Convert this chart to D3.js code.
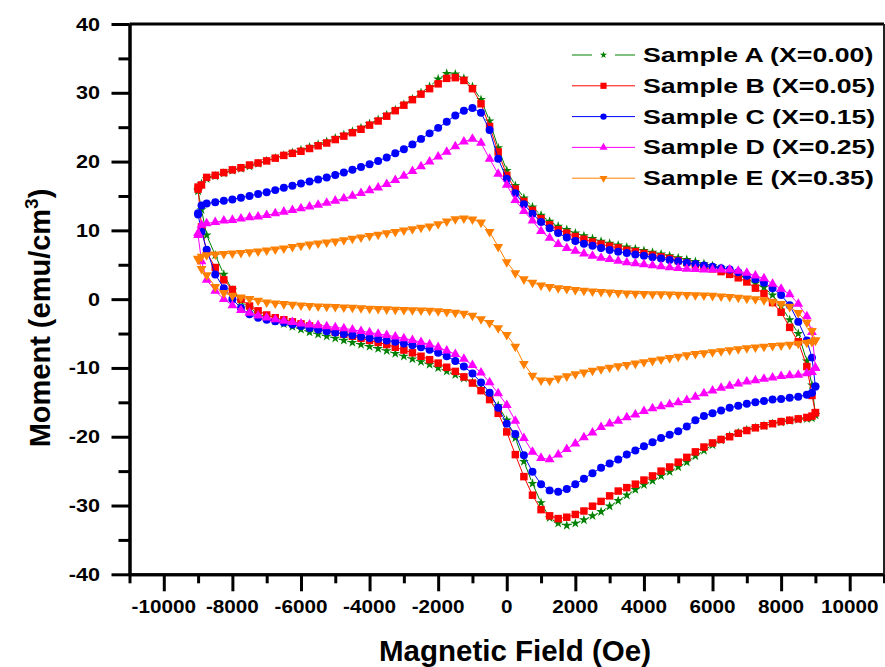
<!DOCTYPE html>
<html>
<head>
<meta charset="utf-8">
<script src="https://cdn.jsdelivr.net/npm/d3@7"></script>
<style>
  body { margin: 0; background: #fff; }
  svg text { font-family: "Liberation Sans", Arial, sans-serif; font-weight: bold; fill: #000; }
</style>
</head>
<body>
<svg id="chart" width="885" height="667"></svg>
<script>
// field steps (Oe), shared by both branches of every loop
const field = [
  -9000, -8900, -8750, -8500, -8250, -8000, -7750, -7500, -7250, -7000,
  -6750, -6500, -6250, -6000, -5750, -5500, -5250, -5000, -4750, -4500,
  -4250, -4000, -3750, -3500, -3250, -3000, -2750, -2500, -2250, -2000,
  -1750, -1500, -1250, -1000, -750, -500, -250, 0, 250, 500,
  750, 1000, 1250, 1500, 1750, 2000, 2250, 2500, 2750, 3000,
  3250, 3500, 3750, 4000, 4250, 4500, 4750, 5000, 5250, 5500,
  5750, 6000, 6250, 6500, 6750, 7000, 7250, 7500, 7750, 8000,
  8250, 8500, 8750, 8900, 9000
];

// upper branch (M at each field value)
const upA = [
  15.9, 16.8, 17.5, 17.9, 18.3, 18.7, 19.0, 19.3, 19.7, 20.1,
  20.5, 20.9, 21.3, 21.7, 22.1, 22.5, 22.9, 23.4, 23.9, 24.4,
  24.9, 25.5, 26.1, 26.8, 27.5, 28.3, 29.1, 30.0, 30.9, 32.0,
  32.8, 32.7, 32.1, 30.9, 29.0, 25.9, 22.0, 18.7, 16.5, 14.7,
  13.4, 12.2, 11.3, 10.6, 10.1, 9.6, 9.2, 8.8, 8.4, 8.1,
  7.85, 7.55, 7.3, 7.05, 6.8, 6.55, 6.3, 6.0, 5.75, 5.45,
  5.15, 4.85, 4.5, 4.15, 3.6, 3.0, 2.3, 1.7, 0.6, -1.0,
  -3.0, -5.0, -9.0, -12.5, -16.8
];
const upB = [
  16.3, 16.6, 17.7, 18.0, 18.4, 18.8, 19.1, 19.5, 19.8, 20.1,
  20.5, 20.9, 21.2, 21.5, 21.9, 22.3, 22.7, 23.2, 23.7, 24.2,
  24.7, 25.3, 25.9, 26.6, 27.4, 28.2, 29.0, 29.8, 30.6, 31.3,
  32.1, 32.2, 31.8, 30.6, 28.4, 25.1, 21.4, 18.0, 16.0, 14.2,
  12.9, 11.7, 10.8, 10.1, 9.6, 9.1, 8.7, 8.3, 8.0, 7.7,
  7.45, 7.1, 6.9, 6.65, 6.4, 6.15, 5.9, 5.6, 5.3, 5.0,
  4.7, 4.4, 4.0, 3.6, 3.1, 2.5, 1.6, 0.8, -0.5, -1.9,
  -4.1, -6.2, -9.8, -14.0, -16.5
];
const upC = [
  12.5, 13.6, 13.9, 14.1, 14.3, 14.5, 14.75, 15.0, 15.3, 15.55,
  15.85, 16.2, 16.5, 16.8, 17.1, 17.4, 17.7, 18.05, 18.4, 18.8,
  19.2, 19.6, 20.1, 20.6, 21.2, 21.8, 22.5, 23.3, 24.1, 24.9,
  25.8, 26.7, 27.4, 27.8, 27.1, 24.6, 20.4, 17.5, 15.4, 13.8,
  12.4, 11.2, 10.3, 9.6, 8.95, 8.45, 8.05, 7.75, 7.45, 7.15,
  6.9, 6.7, 6.5, 6.3, 6.1, 5.9, 5.7, 5.5, 5.3, 5.1,
  4.9, 4.7, 4.5, 4.3, 3.9, 3.4, 2.9, 2.4, 1.6, 0.6,
  -0.9, -3.3, -6.0, -8.5, -12.7
];
const upD = [
  9.6, 10.8, 11.0, 11.2, 11.4, 11.5, 11.7, 11.9, 12.0, 12.2,
  12.45, 12.7, 12.95, 13.2, 13.45, 13.7, 14.0, 14.3, 14.65, 15.0,
  15.4, 15.8, 16.2, 16.7, 17.3, 17.9, 18.6, 19.3, 20.0, 20.7,
  21.4, 22.2, 22.9, 23.3, 22.7, 20.4, 18.2, 16.6, 14.4, 12.8,
  11.4, 9.9, 8.9, 8.0, 7.4, 7.0, 6.6, 6.3, 6.0, 5.8,
  5.55, 5.35, 5.2, 5.05, 4.9, 4.75, 4.6, 4.5, 4.4, 4.35,
  4.3, 4.3, 4.3, 4.3, 4.1, 3.8, 3.4, 3.0, 2.2, 1.5,
  0.7, -0.7, -2.5, -4.8, -10.0
];
const upE = [
  5.9, 6.2, 6.4, 6.5, 6.6, 6.65, 6.75, 6.85, 6.95, 7.1,
  7.25, 7.4, 7.6, 7.8, 7.95, 8.1, 8.25, 8.4, 8.6, 8.8,
  9.0, 9.2, 9.4, 9.6, 9.8, 10.0, 10.2, 10.4, 10.6, 10.9,
  11.3, 11.65, 11.75, 11.6, 11.15, 9.8, 7.6, 5.4, 3.8, 2.9,
  2.4, 2.0, 1.8, 1.6, 1.5, 1.35, 1.25, 1.15, 1.07, 1.0,
  0.92, 0.85, 0.82, 0.78, 0.75, 0.72, 0.69, 0.66, 0.63, 0.6,
  0.57, 0.5, 0.42, 0.35, 0.22, 0.1, 0.0, -0.15, -0.4, -0.7,
  -1.1, -2.0, -3.4, -4.6, -6.0
];

// lower branch (same field order, drawn back from +9000 to -9000)
const loA = [
  15.7, 13.0, 9.3, 6.4, 3.6, 1.3, -0.3, -1.3, -2.1, -2.7,
  -3.2, -3.6, -4.0, -4.4, -4.8, -5.1, -5.4, -5.7, -6.0, -6.3,
  -6.6, -6.9, -7.2, -7.5, -7.9, -8.3, -8.7, -9.1, -9.5, -10.0,
  -10.5, -11.0, -11.5, -12.1, -13.0, -14.1, -15.5, -17.6, -20.2, -23.6,
  -26.8, -29.6, -31.8, -32.6, -32.9, -32.6, -32.1, -31.5, -30.9, -30.1,
  -29.3, -28.5, -27.7, -27.0, -26.4, -25.7, -25.1, -24.4, -23.7, -22.8,
  -22.0, -21.2, -20.5, -19.9, -19.4, -19.0, -18.7, -18.4, -18.1, -17.9,
  -17.7, -17.5, -17.4, -17.3, -16.8
];
const loB = [
  16.0, 10.5, 6.8, 4.6, 2.8, 1.4, 0.0, -1.0, -1.7, -2.3,
  -2.7, -3.0, -3.3, -3.6, -3.9, -4.2, -4.5, -4.8, -5.1, -5.4,
  -5.7, -6.0, -6.3, -6.6, -7.0, -7.4, -7.8, -8.3, -8.8, -9.3,
  -9.9, -10.5, -11.3, -12.2, -13.3, -14.6, -16.6, -19.3, -22.6, -25.8,
  -28.5, -30.6, -31.5, -31.9, -31.7, -31.3, -30.8, -30.1, -29.4, -28.6,
  -27.9, -27.4, -26.9, -26.3, -25.7, -25.0, -24.4, -23.7, -23.0, -22.2,
  -21.5, -20.9, -20.4, -20.0, -19.5, -19.1, -18.7, -18.4, -18.1, -17.8,
  -17.6, -17.4, -17.2, -17.0, -16.5
];
const loC = [
  12.3, 9.8, 7.2, 3.6, 1.6, 0.0, -1.3, -2.2, -2.7, -3.0,
  -3.2, -3.4, -3.7, -3.9, -4.2, -4.4, -4.65, -4.85, -5.05, -5.25,
  -5.45, -5.65, -5.8, -6.0, -6.2, -6.45, -6.7, -7.0, -7.35, -7.8,
  -8.3, -9.0, -9.8, -10.8, -12.1, -13.6, -15.8, -18.1, -19.6, -22.7,
  -25.1, -26.9, -27.8, -28.0, -27.6, -26.9, -26.1, -25.3, -24.5, -23.9,
  -23.3, -22.6, -22.0, -21.4, -20.8, -20.2, -19.7, -19.2, -18.5, -17.6,
  -17.0, -16.6, -16.2, -15.8, -15.5, -15.2, -15.0, -14.8, -14.6, -14.5,
  -14.35, -14.2, -13.9, -13.6, -12.7
];
const loD = [
  9.3, 5.5, 2.8, 1.2, 0.0, -0.9, -1.6, -2.0, -2.4, -2.7,
  -2.95, -3.15, -3.35, -3.55, -3.7, -3.8, -3.95, -4.1, -4.25, -4.45,
  -4.65, -4.85, -5.05, -5.25, -5.45, -5.7, -5.95, -6.25, -6.6, -7.0,
  -7.5, -8.0, -8.7, -9.6, -10.7, -12.1, -13.7, -15.4, -17.7, -20.2,
  -22.2, -23.1, -23.3, -22.6, -21.8, -21.0, -20.1, -19.4, -18.6, -18.1,
  -17.7, -17.2, -16.8, -16.3, -15.9, -15.6, -15.3, -15.0, -14.7, -14.2,
  -13.7, -13.3, -12.9, -12.6, -12.3, -12.0, -11.8, -11.6, -11.4, -11.2,
  -11.1, -11.0, -10.8, -10.6, -10.0
];
const loE = [
  5.8, 4.4, 3.5, 1.8, 0.9, 0.5, 0.25, 0.05, -0.2, -0.45,
  -0.6, -0.7, -0.8, -0.9, -0.97, -1.03, -1.08, -1.13, -1.18, -1.23,
  -1.3, -1.36, -1.42, -1.46, -1.5, -1.54, -1.58, -1.62, -1.66, -1.75,
  -1.85, -1.95, -2.1, -2.4, -2.9, -3.45, -4.2, -5.2, -6.9, -9.4,
  -11.1, -11.8, -11.85, -11.5, -11.2, -10.9, -10.65, -10.4, -10.15, -9.95,
  -9.75, -9.55, -9.35, -9.15, -8.95, -8.75, -8.55, -8.35, -8.15, -7.95,
  -7.85, -7.7, -7.55, -7.4, -7.25, -7.1, -7.0, -6.9, -6.8, -6.7,
  -6.6, -6.45, -6.3, -6.2, -6.0
];

const sampleNames = ["Sample A (X=0.00)", "Sample B (X=0.05)", "Sample C (X=0.15)",
                     "Sample D (X=0.25)", "Sample E (X=0.35)"];
const xMajor = [-10000, -8000, -6000, -4000, -2000, 0, 2000, 4000, 6000, 8000, 10000];
const xMinor = [-11000, -9000, -7000, -5000, -3000, -1000, 1000, 3000, 5000, 7000, 9000, 11000];
const yMajor = [-40, -30, -20, -10, 0, 10, 20, 30, 40];
const yMinor = [-35, -25, -15, -5, 5, 15, 25, 35];

const samples = [
  { name: sampleNames[0], up: upA, lo: loA, color: "#008000", sym: d3.symbolStar, size: 30, lsize: 16, rot: 0, gap: true },
  { name: sampleNames[1], up: upB, lo: loB, color: "#ff0000", sym: d3.symbolSquare, size: 56, lsize: 38, rot: 0 },
  { name: sampleNames[2], up: upC, lo: loC, color: "#0000ff", sym: d3.symbolCircle, size: 50, lsize: 32, rot: 0 },
  { name: sampleNames[3], up: upD, lo: loD, color: "#ff00ff", sym: d3.symbolTriangle, size: 42, lsize: 28, rot: 0 },
  { name: sampleNames[4], up: upE, lo: loE, color: "#ff8000", sym: d3.symbolTriangle, size: 42, lsize: 28, rot: 180 }
];

const svg = d3.select("#chart");
const x = d3.scaleLinear().domain([-11000, 11000]).range([129.5, 884]);
const y = d3.scaleLinear().domain([-40, 40]).range([574.3, 24]);

// loops
samples.forEach(s => {
  const pts = s.up.map((m, i) => [field[i], m])
    .concat(s.lo.map((m, i) => [field[i], m]).reverse());
  const g = svg.append("g");
  if (s.gap) {
    // line broken around each symbol
    for (let i = 0; i < pts.length - 1; i++) {
      const x1 = x(pts[i][0]), y1 = y(pts[i][1]), x2 = x(pts[i + 1][0]), y2 = y(pts[i + 1][1]);
      const len = Math.hypot(x2 - x1, y2 - y1), gp = 3.5;
      if (len <= gp * 2) continue;
      const ux = (x2 - x1) / len, uy = (y2 - y1) / len;
      g.append("line")
        .attr("x1", x1 + ux * gp).attr("y1", y1 + uy * gp)
        .attr("x2", x2 - ux * gp).attr("y2", y2 - uy * gp)
        .attr("stroke", s.color).attr("stroke-width", 1);
    }
  } else {
    g.append("path")
      .attr("d", d3.line().x(d => x(d[0])).y(d => y(d[1]))(pts))
      .attr("fill", "none").attr("stroke", s.color).attr("stroke-width", 1);
  }
  g.selectAll("path.pt").data(pts).enter().append("path")
    .attr("class", "pt")
    .attr("d", d3.symbol().type(s.sym).size(s.size))
    .attr("transform", d => `translate(${x(d[0])},${y(d[1])}) rotate(${s.rot})`)
    .attr("fill", s.color);
});

// axes
const xAxisG = svg.append("g").attr("transform", `translate(0,${y(-40)})`);
xAxisG.call(d3.axisBottom(x).tickValues(xMajor).tickSize(17).tickSizeOuter(0).tickFormat(""));
const xMinorG = svg.append("g").attr("transform", `translate(0,${y(-40)})`);
xMinorG.call(d3.axisBottom(x).tickValues(xMinor).tickSize(9).tickSizeOuter(0).tickFormat(""));
const yAxisG = svg.append("g").attr("transform", `translate(${x(-11000)},0)`);
yAxisG.call(d3.axisLeft(y).tickValues(yMajor).tickSize(18).tickSizeOuter(0).tickFormat(""));
const yMinorG = svg.append("g").attr("transform", `translate(${x(-11000)},0)`);
yMinorG.call(d3.axisLeft(y).tickValues(yMinor).tickSize(11).tickSizeOuter(0).tickFormat(""));
svg.selectAll(".domain, .tick line").attr("stroke", "#000").attr("stroke-width", 3);

// frame top and right
svg.append("line").attr("x1", x(-11000)).attr("x2", x(11000)).attr("y1", y(40)).attr("y2", y(40))
  .attr("stroke", "#000").attr("stroke-width", 3);
svg.append("line").attr("x1", x(11000)).attr("x2", x(11000)).attr("y1", y(40)).attr("y2", y(-40))
  .attr("stroke", "#222").attr("stroke-width", 2);

// tick labels
xMajor.forEach(v => {
  svg.append("text")
    .attr("transform", `translate(${x(v)},613) scale(1.15,1)`)
    .attr("text-anchor", "middle").style("font-size", "18px")
    .text(v);
});
yMajor.forEach(v => {
  svg.append("text")
    .attr("transform", `translate(100,${y(v) + 6.5}) scale(1.2,1)`)
    .attr("text-anchor", "end").style("font-size", "18px")
    .text(v);
});

// axis titles
svg.append("text")
  .attr("x", 515).attr("y", 661)
  .attr("text-anchor", "middle").style("font-size", "29.5px")
  .text("Magnetic Field (Oe)");
const yt = svg.append("text")
  .attr("transform", "translate(50,318) rotate(-90)")
  .attr("text-anchor", "middle").style("font-size", "29px");
yt.append("tspan").text("Moment (emu/cm");
yt.append("tspan").attr("dy", -12).style("font-size", "19px").text("3");
yt.append("tspan").attr("dy", 12).text(")");

// legend
samples.forEach((s, i) => {
  const ly = 55 + i * 30.8;
  const lg = svg.append("g");
  if (s.gap) {
    lg.append("line").attr("x1", 572).attr("x2", 592).attr("y1", ly).attr("y2", ly)
      .attr("stroke", s.color).attr("stroke-width", 1);
    lg.append("line").attr("x1", 615).attr("x2", 635).attr("y1", ly).attr("y2", ly)
      .attr("stroke", s.color).attr("stroke-width", 1);
  } else {
    lg.append("line").attr("x1", 572).attr("x2", 635).attr("y1", ly).attr("y2", ly)
      .attr("stroke", s.color).attr("stroke-width", 1);
  }
  lg.append("path")
    .attr("d", d3.symbol().type(s.sym).size(s.lsize))
    .attr("transform", `translate(603.5,${ly}) rotate(${s.rot})`)
    .attr("fill", s.color);
  lg.append("text")
    .attr("transform", `translate(643,${ly + 7}) scale(1.37,1)`)
    .style("font-size", "19.5px")
    .text(s.name);
});
</script>
</body>
</html>
